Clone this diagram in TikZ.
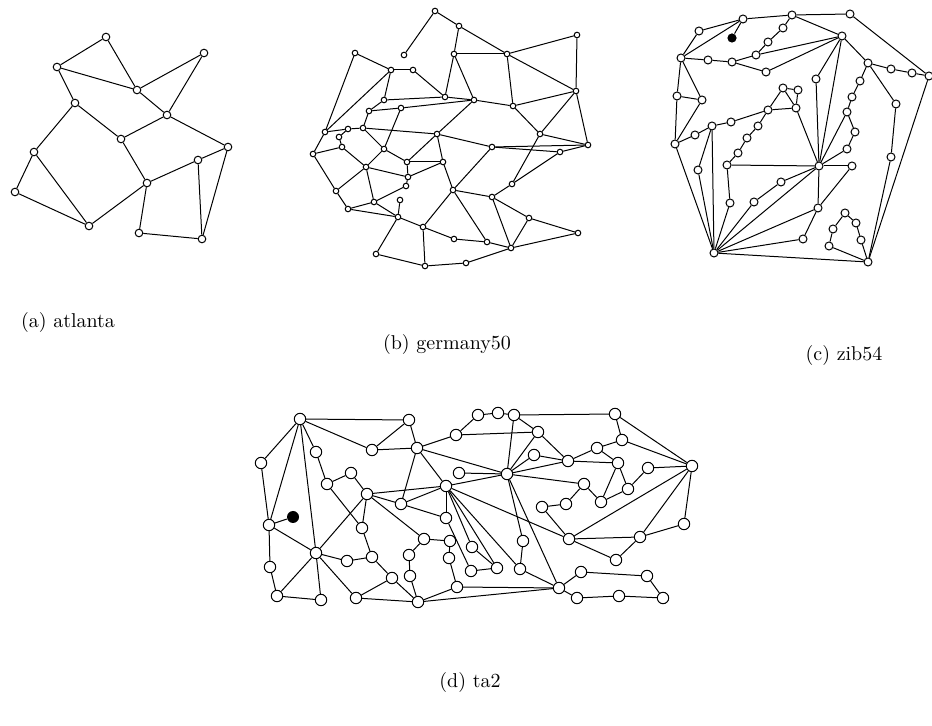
\documentclass[tikz,border=0pt]{standalone}
\usepackage{tikz}
\usetikzlibrary{positioning}

\begin{document}
\begin{tikzpicture}[x=0.5pt,y=-0.5pt,line width=0.5pt,
  vx/.style={circle,draw,fill=white,inner sep=0pt,minimum size=#1},
  atl/.style={vx=3.8pt},ger/.style={vx=2.8pt},zib/.style={vx=4pt},tas/.style={vx=5.7pt},
  blk/.style={circle,fill=black,inner sep=0pt,minimum size=#1}]
\useasboundingbox (0,0) rectangle (932,726);
% (a) atlanta
\foreach \n/\x/\y in {a1/106/37,a2/57/67,a3/204/53,a4/137/90,a5/75/103,a6/167/115,a7/121/139,
 a8/228/147,a9/34/152,a10/198/160,a11/147/183,a12/15/192,a13/89/226,a14/139/233,a15/202/239}
 \node[atl] (\n) at (\x,\y) {};
\foreach \u/\v in {a1/a2,a1/a4,a2/a4,a3/a4,a3/a6,a4/a6,a2/a5,a5/a7,a5/a9,a6/a7,a6/a8,a7/a11,
 a9/a12,a9/a13,a12/a13,a11/a13,a10/a11,a8/a10,a10/a15,a8/a15,a11/a14,a14/a15}
 \draw (\u) -- (\v);
% (b) germany50
\foreach \n/\x/\y in {g1/435/11,g2/459/26,g3/577/35,g4/355/53,g5/404/55,g6/454/54,g7/507/54,
 g8/391/70,g9/413/70,g10/576/91,g11/445/97,g12/474/100,g13/384/100,g14/513/106,g15/401/108,
 g16/369/111,g17/363/128,g18/348/129,g19/325/132,g20/339/137,g21/437/134,g22/540/134,
 g23/492/147,g24/588/145,g25/342/147,g26/384/149,g27/560/152,g28/313/154,g29/443/162,
 g30/407/162,g31/366/167,g32/408/177,g33/512/184,g34/406/186,g35/453/190,g36/336/191,
 g37/492/197,g38/400/200,g39/374/202,g40/348/209,g41/398/217,g42/529/218,g43/423/227,
 g44/578/233,g45/454/239,g46/487/242,g47/511/248,g48/376/254,g49/466/263,g50/425/266}
 \node[ger] (\n) at (\x,\y) {};
\foreach \u/\v in {g1/g2,g1/g5,g2/g6,g2/g7,g3/g7,g3/g10,g4/g8,g4/g19,g6/g7,g6/g11,g6/g12,
 g7/g10,g7/g14,g8/g9,g8/g13,g8/g19,g9/g11,g10/g14,g10/g22,g10/g24,g11/g12,g11/g13,g12/g14,
 g12/g15,g12/g21,g13/g16,g14/g22,g15/g16,g15/g26,g16/g17,g17/g18,g17/g21,g17/g26,g18/g19,
 g18/g20,g19/g28,g20/g25,g21/g23,g21/g29,g21/g30,g22/g24,g22/g33,g23/g24,g23/g27,g23/g35,
 g24/g27,g25/g28,g25/g31,g26/g30,g26/g31,g27/g33,g28/g36,g29/g30,g29/g32,g29/g35,g30/g32,
 g31/g32,g31/g36,g31/g39,g32/g34,g33/g37,g34/g39,g35/g37,g35/g43,g35/g46,g36/g40,g37/g42,
 g37/g47,g38/g41,g39/g40,g39/g41,g40/g41,g41/g43,g41/g48,g42/g44,g42/g47,g43/g45,g43/g50,
 g44/g47,g45/g46,g46/g47,g47/g49,g48/g50,g49/g50}
 \draw (\u) -- (\v);
% (c) zib54
\foreach \n/\x/\y in {z1/743/19,z2/792/15,z3/699/31,z4/783/28,z5/768/42,z6/756/55,z7/732/62,
 z8/708/60,z9/681/58,z10/766/72,z11/677/96,z12/702/100,z13/783/88,z14/798/90,z15/796/108,
 z16/768/110,z17/758/126,z18/731/122,z19/712/126,z20/695/135,z21/675/144,z22/747/138,
 z23/738/153,z24/727/165,z25/698/170,z26/781/182,z27/754/202,z28/730/203,z29/714/253,
 z30/850/14,z31/842/36,z32/868/63,z33/891/69,z34/912/73,z35/929/76,z36/860/81,z37/816/79,
 z38/852/97,z39/896/104,z40/847/112,z41/855/132,z42/847/149,z43/819/166,z44/852/166,
 z45/891/157,z46/818/208,z47/803/239,z48/845/213,z49/856/223,z50/833/229,z51/861/240,
 z52/829/246,z53/868/262}
 \node[zib] (\n) at (\x,\y) {};
\node[blk=4.6pt] (zb) at (732,38) {};
\foreach \u/\v in {z1/z2,z1/z3,z1/z9,z1/zb,z3/z9,z9/z8,z8/z7,z7/z6,z6/z5,z5/z4,z4/z2,z6/z31,
 z10/z31,z7/z10,z9/z11,z9/z12,z11/z12,z11/z21,z12/z21,z21/z20,z20/z19,z19/z18,z18/z16,
 z16/z13,z16/z15,z13/z14,z13/z15,z14/z15,z15/z43,z16/z17,z17/z22,z22/z23,z23/z24,z24/z43,
 z24/z28,z28/z29,z19/z25,z25/z29,z19/z29,z21/z29,z29/z27,z27/z26,z26/z43,z29/z43,z29/z46,
 z29/z47,z29/z53,z46/z43,z46/z44,z46/z47,z43/z44,z43/z42,z42/z41,z41/z40,z40/z38,z38/z36,
 z36/z32,z43/z40,z43/z37,z43/z31,z31/z37,z31/z2,z2/z30,z30/z35,z31/z32,z32/z33,z33/z34,
 z34/z35,z32/z39,z39/z45,z45/z53,z35/z53,z48/z49,z49/z51,z51/z53,z48/z50,z50/z52,z52/z53}
 \draw (\u) -- (\v);
% (d) ta2
\foreach \n/\x/\y in {t1/300/419,t2/409/420,t3/261/463,t4/316/452,t5/372/450,t6/417/448,
 t7/351/473,t8/327/484,t9/367/494,t10/401/504,t11/269/525,t12/362/528,t13/316/553,
 t14/347/561,t15/372/557,t16/409/555,t17/270/567,t18/410/576,t19/392/578,t20/277/596,
 t21/321/600,t22/356/598,t23/418/602,t24/478/415,t25/498/413,t26/514/415,t27/456/435,
 t28/538/432,t29/534/455,t30/507/474,t31/459/473,t32/446/486,t33/542/507,t34/446/518,
 t35/424/539,t36/450/541,t37/472/547,t38/449/558,t39/523/541,t40/471/571,t41/497/568,
 t42/520/569,t43/457/587,t44/559/588,t45/615/414,t46/622/440,t47/597/448,t48/568/461,
 t49/618/463,t50/648/468,t51/692/466,t52/584/484,t53/628/489,t54/601/502,t55/566/504,
 t56/684/524,t57/569/539,t58/640/537,t59/616/560,t60/581/572,t61/647/576,t62/577/598,
 t63/619/596,t64/663/598}
 \node[tas] (\n) at (\x,\y) {};
\node[blk=6pt] (tb) at (293,517) {};
\foreach \u/\v in {t1/t2,t1/t3,t1/t4,t1/t5,t1/t11,t1/t13,t2/t5,t2/t6,t5/t6,t3/t11,t4/t8,
 t7/t8,t7/t9,t8/t12,t9/t12,t9/t13,t9/t10,t9/t32,t9/t35,t6/t10,t10/t32,t10/t34,t11/tb,
 t11/t13,t11/t17,t17/t20,t13/t20,t20/t21,t13/t21,t13/t14,t14/t15,t12/t15,t15/t19,t13/t22,
 t19/t22,t22/t23,t16/t18,t19/t23,t18/t23,t16/t35,t6/t27,t6/t32,t6/t30,t24/t27,t24/t25,
 t25/t26,t27/t28,t26/t28,t26/t45,t26/t30,t28/t30,t29/t30,t28/t48,t29/t48,t30/t48,t30/t52,
 t30/t31,t30/t32,t32/t34,t32/t57,t33/t55,t33/t57,t35/t36,t36/t38,t38/t43,t43/t44,t23/t43,
 t23/t44,t30/t39,t39/t42,t42/t44,t30/t44,t37/t41,t40/t41,t32/t41,t32/t37,t32/t42,t34/t40,
 t45/t46,t45/t51,t46/t47,t46/t51,t47/t48,t47/t49,t48/t49,t49/t53,t49/t54,t53/t54,t53/t50,
 t50/t51,t52/t54,t52/t55,t51/t56,t51/t57,t51/t58,t56/t58,t57/t58,t57/t59,t58/t59,t60/t61,
 t60/t44,t61/t64,t44/t62,t62/t63,t63/t64}
 \draw (\u) -- (\v);
% captions
\node (capa) at (68,323) {(a) atlanta};
\node (capb) at (447,345) {(b) germany50};
\node (capc) at (844,356) {(c) zib54};
\node (capd) at (470,683) {(d) ta2};
\end{tikzpicture}
\end{document}
